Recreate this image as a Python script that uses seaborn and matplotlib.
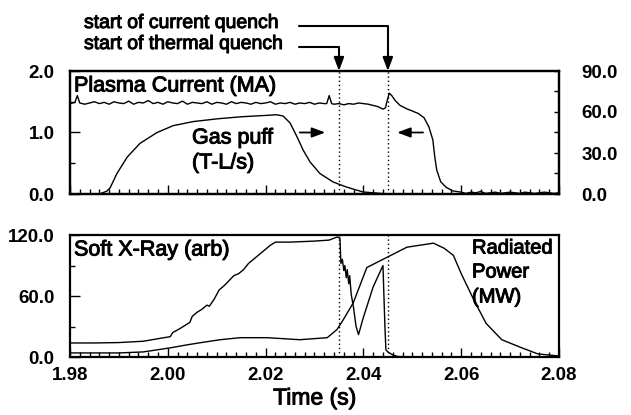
import matplotlib
matplotlib.use("Agg")
import matplotlib.pyplot as plt
import matplotlib.patheffects as pe
import seaborn as sns
import pandas as pd
from matplotlib.ticker import MultipleLocator

# ---------------- data ----------------
ip_time = [1.980, 1.981, 1.9815, 1.982, 1.983, 1.984, 1.985, 1.986, 1.987, 1.988, 1.989,
           1.990, 1.991, 1.992, 1.993, 1.994, 1.995, 1.996, 1.997, 1.998, 1.999,
           2.000, 2.001, 2.002, 2.003, 2.004, 2.005, 2.006, 2.007, 2.008, 2.009,
           2.010, 2.011, 2.012, 2.013, 2.014, 2.015, 2.016, 2.017, 2.018, 2.019,
           2.020, 2.021, 2.022, 2.023, 2.024, 2.025, 2.026, 2.027, 2.028, 2.029,
           2.030, 2.031, 2.032, 2.0325, 2.033, 2.0335, 2.034, 2.035, 2.036, 2.037, 2.038, 2.039,
           2.040, 2.041, 2.042, 2.043, 2.044, 2.0445, 2.0450, 2.0453, 2.0458, 2.0465, 2.0475,
           2.0490, 2.0500, 2.0512, 2.0524, 2.0534, 2.0542, 2.0546, 2.0550, 2.0558, 2.0569,
           2.0583, 2.060, 2.061, 2.062, 2.063, 2.064, 2.065, 2.066, 2.067, 2.068, 2.069,
           2.070, 2.071, 2.072, 2.073, 2.074, 2.075, 2.076, 2.077, 2.078, 2.079, 2.080]
ip_ma = [1.47, 1.49, 1.60, 1.48, 1.46, 1.48, 1.50, 1.47, 1.49, 1.46, 1.50,
         1.48, 1.47, 1.51, 1.46, 1.49, 1.48, 1.52, 1.47, 1.49, 1.46,
         1.50, 1.48, 1.47, 1.51, 1.46, 1.49, 1.48, 1.47, 1.50, 1.46,
         1.49, 1.48, 1.46, 1.50, 1.47, 1.49, 1.48, 1.46, 1.49, 1.47,
         1.48, 1.50, 1.46, 1.48, 1.47, 1.49, 1.46, 1.48, 1.47, 1.49,
         1.46, 1.48, 1.47, 1.47, 1.60, 1.47, 1.46, 1.47, 1.45, 1.47, 1.46, 1.48,
         1.47, 1.46, 1.44, 1.42, 1.38, 1.40, 1.56, 1.64, 1.60, 1.52, 1.44,
         1.38, 1.35, 1.31, 1.24, 1.09, 0.88, 0.60, 0.39, 0.20, 0.11,
         0.05, 0.03, 0.01, 0.03, 0.02, 0.04, 0.01, 0.02, 0.03, 0.01, 0.02,
         0.03, 0.02, 0.01, 0.03, 0.02, 0.01, 0.02, 0.03, 0.02, 0.01, 0.02]

gas_time = [1.9860, 1.9875, 1.9882, 1.9896, 1.9917, 1.9943, 1.9978, 2.0011, 2.0052,
            2.0101, 2.0150, 2.0200, 2.0223, 2.0236, 2.0250, 2.0264, 2.0277, 2.0291,
            2.0311, 2.0338, 2.0366, 2.0399, 2.0440, 2.0460]
gas_tls = [0.0, 2.0, 4.5, 15.0, 27.0, 37.0, 45.0, 50.0, 53.0,
           55.0, 56.5, 57.5, 58.0, 57.0, 52.0, 42.0, 32.0, 23.4,
           15.0, 8.8, 5.0, 1.5, 0.3, 0.0]

sxr_time = [1.980, 1.985, 1.990, 1.995, 1.998, 2.0005, 2.0010, 2.0025, 2.0035, 2.0045,
            2.0050, 2.0060, 2.0070, 2.0080, 2.0085, 2.0095, 2.0105, 2.0115, 2.0125, 2.0135,
            2.0145, 2.0155, 2.0165, 2.0180, 2.0195, 2.0210, 2.0220, 2.0250, 2.0300, 2.0330,
            2.0346, 2.0352, 2.0354, 2.0357, 2.0360, 2.0362, 2.0365, 2.0367, 2.0370, 2.0372,
            2.0375, 2.0380, 2.0385, 2.0390, 2.0400, 2.0420, 2.0440, 2.0444, 2.0446, 2.0450,
            2.0460, 2.0470, 2.0500]
sxr_arb = [13.8, 13.8, 14.2, 15.5, 18.0, 20.0, 24.0, 28.0, 31.0, 34.0,
           40.0, 44.0, 47.0, 51.0, 50.0, 57.0, 66.0, 70.0, 75.0, 80.0,
           82.0, 86.0, 92.0, 98.0, 104.0, 110.0, 113.0, 113.0, 114.0, 115.0,
           118.0, 117.0, 92.0, 96.0, 85.0, 90.0, 78.0, 86.0, 72.0, 80.0,
           62.0, 48.0, 30.0, 22.0, 39.0, 69.0, 90.0, 30.0, 7.0, 5.0,
           2.0, 0.5, 0.0]

prad_time = [1.980, 1.990, 1.995, 2.0005, 2.0040, 2.0066, 2.0107, 2.0148, 2.0203, 2.0270,
             2.0326, 2.0346, 2.0358, 2.0379, 2.0407, 2.0448, 2.0489, 2.0516, 2.0530, 2.0543,
             2.0565, 2.0584, 2.0600, 2.0626, 2.0651, 2.0683, 2.0724, 2.0757, 2.0800]
prad_mw = [4.0, 4.0, 5.0, 9.0, 12.0, 14.0, 17.0, 19.0, 19.0, 17.0,
           19.0, 27.0, 36.0, 53.0, 88.0, 98.0, 108.0, 110.0, 111.0, 112.0,
           107.0, 100.0, 82.0, 56.0, 33.0, 17.0, 9.0, 3.0, 1.0]

quench_times = [2.035, 2.045]   # thermal, current
xtick_vals = [1.98, 2.00, 2.02, 2.04, 2.06, 2.08]
xtick_labels = ["1.98", "2.00", "2.02", "2.04", "2.06", "2.08"]
ip_ticks = [0.0, 1.0, 2.0]
ip_labels = ["0.0", "1.0", "2.0"]
gas_ticks = [0.0, 30.0, 60.0, 90.0]
gas_labels = ["0.0", "30.0", "60.0", "90.0"]
sxr_ticks = [0.0, 60.0, 120.0]
sxr_labels = ["0.0", "60.0", "120.0"]

# ---------------- style ----------------
sns.set_theme(style="ticks", rc={
    "axes.edgecolor": "black", "xtick.color": "black", "ytick.color": "black",
    "text.color": "black", "axes.labelcolor": "black", "axes.linewidth": 1.6,
})
plt.rcParams["font.family"] = ["Liberation Sans", "DejaVu Sans"]

W, H = 631, 415
fig = plt.figure(figsize=(W / 100, H / 100), dpi=100)


def box(l, t, r, b):
    return [l / W, 1 - b / H, (r - l) / W, (b - t) / H]


ax1 = fig.add_axes(box(70, 71, 559, 194))
ax2 = fig.add_axes(box(70, 235, 559, 357))
ax1r = ax1.twinx()

LW = 1.0
ip_df = pd.DataFrame({"t": ip_time, "v": ip_ma})
gas_df = pd.DataFrame({"t": gas_time, "v": gas_tls})
sxr_df = pd.DataFrame({"t": sxr_time, "v": sxr_arb})
prad_df = pd.DataFrame({"t": prad_time, "v": prad_mw})

sns.lineplot(data=ip_df, x="t", y="v", ax=ax1, color="black", lw=LW, estimator=None, sort=False)
sns.lineplot(data=gas_df, x="t", y="v", ax=ax1r, color="black", lw=LW, estimator=None, sort=False)
sns.lineplot(data=sxr_df, x="t", y="v", ax=ax2, color="black", lw=LW, estimator=None, sort=False)
sns.lineplot(data=prad_df, x="t", y="v", ax=ax2, color="black", lw=LW, estimator=None, sort=False)

for ax in (ax1, ax2):
    for qt in quench_times:
        ax.axvline(qt, color="black", ls=(0, (1, 2)), lw=1.0)

STROKE = [pe.withStroke(linewidth=0.7, foreground="black")]

# limits / ticks
TF = dict(fontsize=13.5, fontweight="bold")
for ax in (ax1, ax2):
    ax.set_xlim(1.98, 2.08)
    ax.set_xlabel("")
    ax.set_ylabel("")
    ax.xaxis.set_minor_locator(MultipleLocator(0.002))
    ax.tick_params(axis="x", which="major", direction="in", length=6.5, width=1.0,
                   top=False, bottom=True, pad=7)
    ax.tick_params(axis="x", which="minor", direction="in", length=3.5, width=1.0,
                   top=False, bottom=True)
    ax.tick_params(axis="y", which="major", direction="in", length=7, width=1.0,
                   left=True, right=False, pad=11)
    ax.tick_params(axis="y", which="minor", direction="in", length=3.5, width=1.0,
                   left=True, right=False)
    for s in ax.spines.values():
        s.set_linewidth(1.6)
        s.set_visible(True)

ax1.set_ylim(0, 2.0)
ax1.set_yticks(ip_ticks, labels=ip_labels, **TF)
ax1.yaxis.set_minor_locator(MultipleLocator(0.5))
ax1.set_xticks(xtick_vals, labels=[""] * len(xtick_vals))

ax1r.set_ylim(0, 90)
ax1r.set_ylabel("")
ax1r.set_yticks(gas_ticks, labels=gas_labels, **TF)
ax1r.yaxis.set_minor_locator(MultipleLocator(15))
ax1r.tick_params(axis="y", which="both", direction="in", length=3.5, width=1.0,
                 right=True, left=False, pad=16)
for s in ax1r.spines.values():
    s.set_linewidth(1.6)

ax2.set_ylim(0, 120)
ax2.set_yticks(sxr_ticks, labels=sxr_labels, **TF)
ax2.yaxis.set_minor_locator(MultipleLocator(30))
ax2.set_xticks(xtick_vals, labels=xtick_labels, **TF)
ax2.set_xlabel("Time (s)", fontsize=16.5, labelpad=2, path_effects=STROKE)


def ftext(x, y, s, **kw):
    fig.text(x / W, 1 - y / H, s, path_effects=STROKE, **kw)


LAB = 15.5
ftext(74, 86, "Plasma Current (MA)", fontsize=LAB, va="center", ha="left")
ftext(192, 138, "Gas puff", fontsize=LAB, va="center", ha="left")
ftext(192, 163, "(T-L/s)", fontsize=LAB, va="center", ha="left")
ftext(74, 250, "Soft X-Ray (arb)", fontsize=LAB, va="center", ha="left")
ftext(472, 248, "Radiated", fontsize=14.5, va="center", ha="left")
ftext(472, 272, "Power", fontsize=14.5, va="center", ha="left")
ftext(472, 297, "(MW)", fontsize=14.5, va="center", ha="left")

# annotations above
ftext(84, 28, "start of current quench", fontsize=14, va="baseline", ha="left")
ftext(84, 49, "start of thermal quench", fontsize=14, va="baseline", ha="left")
head = "-|>,head_length=0.8,head_width=0.3"
for qt, ypix in zip(quench_times, [47, 26]):
    ax1.annotate("", xy=(qt, 1.0), xycoords=("data", "axes fraction"),
                 xytext=(299, H - ypix), textcoords="figure pixels",
                 arrowprops=dict(arrowstyle=head, connectionstyle="angle,angleA=0,angleB=90,rad=0",
                                 color="black", lw=1.5, shrinkA=0, shrinkB=0, mutation_scale=10),
                 annotation_clip=False)

# arrows inside the top panel pointing at the quench lines
ax1.annotate("", xy=(2.0322, 1.0), xytext=(2.0270, 1.0),
             arrowprops=dict(arrowstyle=head, color="black", lw=1.3, shrinkA=0, shrinkB=0,
                             mutation_scale=10))
ax1.annotate("", xy=(2.0469, 1.0), xytext=(2.0522, 1.0),
             arrowprops=dict(arrowstyle=head, color="black", lw=1.3, shrinkA=0, shrinkB=0,
                             mutation_scale=10))

fig.savefig("out.png", dpi=100)
